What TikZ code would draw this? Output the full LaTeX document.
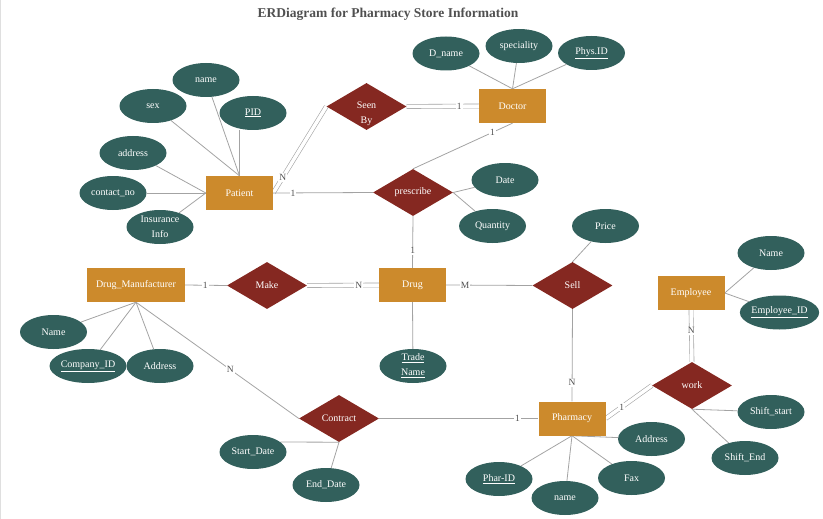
\documentclass[tikz,border=0pt]{standalone}
\usepackage{fontspec}
\setmainfont{Liberation Serif}
\usetikzlibrary{shapes.geometric,backgrounds}
\definecolor{entc}{HTML}{CC8A2C}
\definecolor{attc}{HTML}{32605C}
\definecolor{relc}{HTML}{852821}
\definecolor{linec}{HTML}{A3A3A3}
\definecolor{titc}{HTML}{505050}
\tikzset{
  ent/.style={rectangle, fill=entc, minimum width=67pt, minimum height=34pt, inner sep=0pt, text=white, font=\fontsize{10}{15}\selectfont},
  attr/.style={ellipse, fill=attc, minimum width=67pt, minimum height=34pt, inner sep=0pt, text=white, align=center, font=\fontsize{10}{15}\selectfont},
  rel/.style={diamond, aspect=1.7, fill=relc, minimum width=80pt, minimum height=47pt, inner sep=0pt, text=white, align=center, font=\fontsize{10}{15}\selectfont},
  conn/.style={draw=linec, line width=0.8pt},
  dconn/.style={draw=linec, line width=0.6pt, double=white, double distance=3.5pt},
  card/.style={fill=white, inner sep=1pt, text=titc, font=\fontsize{9.5}{10}\selectfont},
}
\begin{document}
\begin{tikzpicture}[x=1pt,y=-1pt]
\useasboundingbox (0,0) rectangle (823,519);
\draw[gray!25, line width=1pt] (0.5,0) -- (0.5,519);
\node[text=titc, font=\bfseries\fontsize{13.5}{15}\selectfont] (title) at (388,14) {ERDiagram for Pharmacy Store Information};

% entities
\node[ent] (patient) at (239.5,193) {Patient};
\node[ent] (doctor) at (512.5,106) {Doctor};
\node[ent, minimum width=98pt] (manuf) at (136,285) {Drug\_Manufacturer};
\node[ent] (drug) at (412.5,285) {Drug};
\node[ent] (employee) at (691,293) {Employee};
\node[ent] (pharmacy) at (572,418.5) {Pharmacy};

% relationships
\node[rel, label={[text=white, align=center, font=\fontsize{10}{15}\selectfont, yshift=-7pt]center:{Seen\\By}}] (seenby) at (366.5,106.5) {};
\node[rel] (prescribe) at (413,192.5) {prescribe};
\node[rel] (make) at (267,285.5) {Make};
\node[rel] (sell) at (572.5,285.5) {Sell};
\node[rel] (work) at (692,385.5) {work};
\node[rel] (contract) at (339,418.5) {Contract};

% attributes
\node[attr] (pname) at (206,80) {name};
\node[attr] (sex) at (153,106) {sex};
\node[attr] (pid) at (253,113) {\underline{PID}};
\node[attr] (paddr) at (133,153) {address};
\node[attr] (contact) at (113,193) {contact\_no};
\node[attr] (insur) at (160,227) {Insurance\\Info};
\node[attr] (dname) at (446,53.5) {D\_name};
\node[attr] (spec) at (519,46) {speciality};
\node[attr] (physid) at (591.5,53) {\underline{Phys.ID}};
\node[attr] (date) at (505,180) {Date};
\node[attr] (qty) at (492.5,226) {Quantity};
\node[attr] (price) at (605.5,226) {Price};
\node[attr] (ename) at (771,253) {Name};
\node[attr, minimum width=71pt] (eid) at (779.5,312.5) {\underline{Employee\_ID}};
\node[attr] (sstart) at (771,412) {Shift\_start};
\node[attr] (send) at (745,458) {Shift\_End};
\node[attr] (phaddr) at (651.5,439) {Address};
\node[attr] (fax) at (631.5,478) {Fax};
\node[attr] (phname) at (565,498) {name};
\node[attr] (pharid) at (499,479) {\underline{Phar-ID}};
\node[attr] (trade) at (413,366) {\underline{Trade}\\\underline{Name}};
\node[attr] (mname) at (53.5,332) {Name};
\node[attr, minimum width=70pt] (compid) at (88,366) {\underline{Company\_ID}};
\node[attr] (maddr) at (160,366) {Address};
\node[attr] (sdate) at (253,452) {Start\_Date};
\node[attr] (edate) at (326,485) {End\_Date};

\begin{pgfonlayer}{background}
% patient attributes
\draw[conn] (pname) -- (patient.north);
\draw[conn] (sex) -- (patient.north);
\draw[conn] (patient.north) -- (patient.north |- pid.south);
\draw[conn] (paddr) -- (patient.west);
\draw[conn] (contact) -- (patient.west);
\draw[conn] (insur) -- (patient.west);
% doctor attributes
\draw[conn] (dname) -- (doctor.north);
\draw[conn] (spec) -- (doctor.north);
\draw[conn] (physid) -- (doctor.north);
% relationships
\draw[dconn] (patient.east) -- node[card, pos=0.18] {N} (seenby.west);
\draw[dconn] (seenby.east) -- node[card, pos=0.73] {1} (doctor.west);
\draw[conn] (patient.east) -- node[card, pos=0.2] {1} (prescribe.west);
\draw[conn] (doctor.south) -- node[card, pos=0.2] {1} (prescribe.north);
\draw[conn] (prescribe.south) -- node[card, pos=0.67] {1} (drug.north);
\draw[conn] (prescribe.east) -- (date);
\draw[conn] (prescribe.east) -- (qty);
\draw[conn] (manuf.east) -- node[card, pos=0.48] {1} (make.west);
\draw[dconn] (make.east) -- node[card, pos=0.72] {N} (drug.west);
\draw[conn] (drug.east) -- node[card, pos=0.22] {M} (sell.west);
\draw[conn] (sell.north) -- (price);
\draw[conn] (sell.south) -- node[card, pos=0.8] {N} (pharmacy.north);
\draw[conn] (drug.south) -- (trade);
\draw[conn] (manuf.south) -- (mname);
\draw[conn] (manuf.south) -- (compid);
\draw[conn] (manuf.south) -- (maddr);
\draw[conn] (manuf.south) -- node[card, pos=0.58] {N} (contract.west);
\draw[conn] (contract.east) -- node[card, pos=0.87] {1} (pharmacy.west);
\draw[conn] (contract.south) -- (sdate.20);
\draw[conn] (contract.south) -- (edate);
\draw[dconn] (pharmacy.east) -- node[card, pos=0.35] {1} (work.west);
\draw[dconn] (employee.south) -- node[card, pos=0.4] {N} (work.north);
\draw[conn] (work.south) -- (sstart);
\draw[conn] (work.south) -- (send);
\draw[conn] (employee.east) -- (ename);
\draw[conn] (employee.east) -- (eid);
\draw[conn] (pharmacy.south) -- (phaddr);
\draw[conn] (pharmacy.south) -- (fax);
\draw[conn] (pharmacy.south) -- (phname);
\draw[conn] (pharmacy.south) -- (pharid);
\end{pgfonlayer}
\end{tikzpicture}
\end{document}
